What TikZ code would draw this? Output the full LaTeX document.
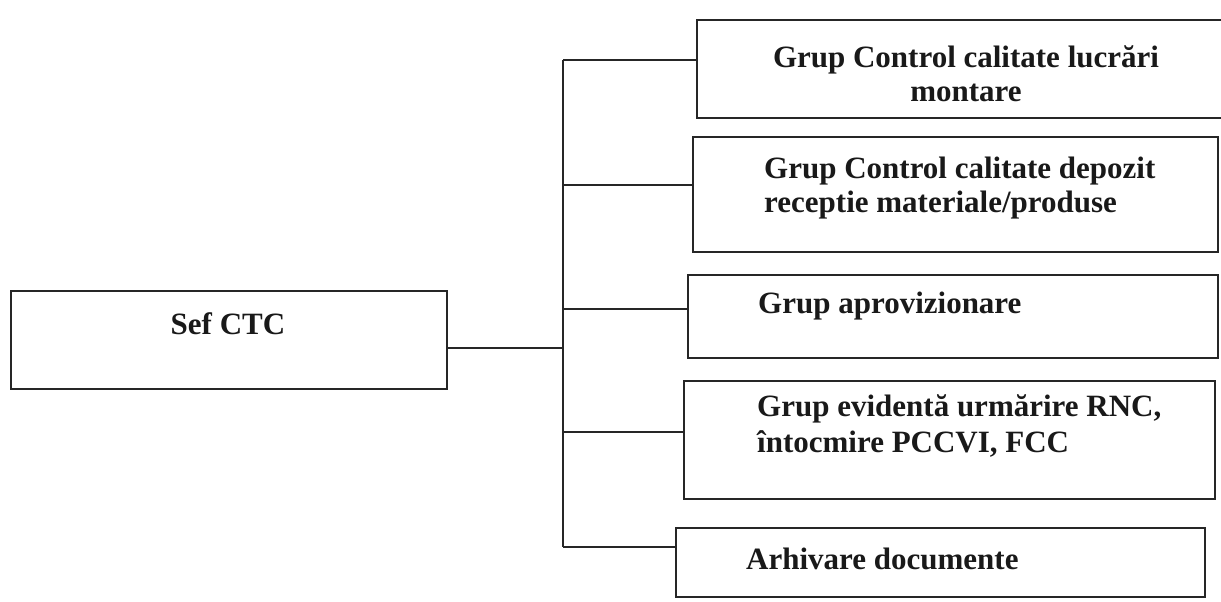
\documentclass[tikz,border=0pt]{standalone}
\usepackage{fontspec}
\setmainfont{Liberation Serif}
\begin{document}
\begin{tikzpicture}[x=1pt,y=-1pt,
  box/.style={draw=black!85, line width=1.5pt, rectangle, inner sep=0pt},
  lbl/.style={font=\bfseries\fontsize{31}{36}\selectfont, inner sep=0pt, text=black!90},
  conn/.style={draw=black!85, line width=1.5pt}]
\useasboundingbox[fill=white] (0,0) rectangle (1221,602);
% boxes
\node[box, minimum width=436pt, minimum height=98pt] (sef) at (229,340) {};
\node[box, minimum width=543pt, minimum height=98pt] (b1) at (968.5,69) {};
\node[box, minimum width=525pt, minimum height=115pt] (b2) at (955.5,194.5) {};
\node[box, minimum width=530pt, minimum height=83pt] (b3) at (953,316.5) {};
\node[box, minimum width=531pt, minimum height=118pt] (b4) at (949.5,440) {};
\node[box, minimum width=529pt, minimum height=69pt] (b5) at (940.5,562.5) {};
% texts
\node[lbl, anchor=base] (tsef) at (228,334) {Sef CTC};
\node[lbl, anchor=base] (t1a) at (966,68) {Grup Control calitate lucrări};
\node[lbl, anchor=base] (t1b) at (966,101) {montare};
\node[lbl, anchor=base west] (t2a) at (764,178) {Grup Control calitate depozit};
\node[lbl, anchor=base west] (t2b) at (764,212) {receptie materiale/produse};
\node[lbl, anchor=base west] (t3) at (758,313) {Grup aprovizionare};
\node[lbl, anchor=base west] (t4a) at (757,416) {Grup evidentă urmărire RNC,};
\node[lbl, anchor=base west] (t4b) at (757,452) {întocmire PCCVI, FCC};
\node[lbl, anchor=base west] (t5) at (746,569) {Arhivare documente};
% trunk
\coordinate (jtop) at (563,60);
\coordinate (jbot) at (563,547);
\coordinate (jsef) at (563,348);
\draw[conn] (jtop) -- (jbot);
\draw[conn] (sef.east |- jsef) -- (jsef);
\draw[conn] (jtop) -- (b1.west |- jtop);
\draw[conn] (563,185) -- (b2.west |- 0,185);
\draw[conn] (563,309) -- (b3.west |- 0,309);
\draw[conn] (563,432) -- (b4.west |- 0,432);
\draw[conn] (jbot) -- (b5.west |- jbot);
\end{tikzpicture}
\end{document}
